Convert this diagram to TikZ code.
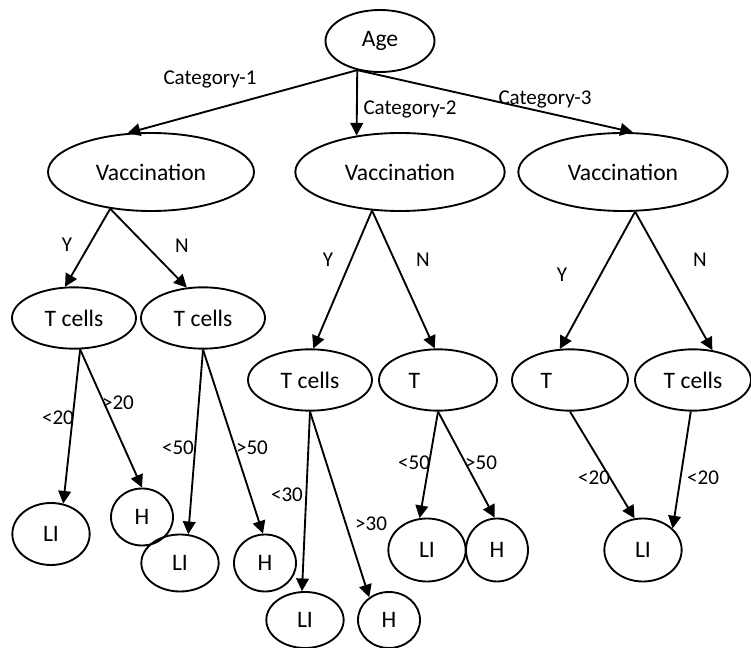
\documentclass[tikz,border=0pt]{standalone}
\usepackage{fontspec}
\setmainfont{Carlito}
\usetikzlibrary{shapes,arrows.meta,positioning}

\begin{document}
\begin{tikzpicture}[x=0.75pt, y=-0.75pt, line width=1.4pt,
  >={Triangle[length=9.5pt,width=9.5pt]},
  box/.style={ellipse, draw, inner sep=0pt, font=\fontsize{17.7}{20}\selectfont},
  vacc/.style={box, minimum width=157pt, minimum height=58.5pt},
  tcell/.style={box, minimum width=93pt, minimum height=46pt},
  leaf/.style={box, minimum width=58pt, minimum height=45pt},
  hnode/.style={box, minimum width=46.5pt, minimum height=44pt},
  lbl/.style={inner sep=0pt, font=\fontsize{15.8}{18}\selectfont}]
\useasboundingbox (0,0) rectangle (751,648);

\node (age) [box, minimum width=81.75pt, minimum height=46.5pt] at (380,41) {Age};
\node (vacc1) [vacc, minimum width=154.5pt] at (151,172) {Vaccination};
\node (vacc2) [vacc] at (400,172) {Vaccination};
\node (vacc3) [vacc] at (623,172) {Vaccination};

% second level
\node (tcells1) [tcell] at (74,318) {T cells};
\node (tcells2) [tcell] at (203,318) {T cells};
\node (tcells3) [tcell] at (310,380) {T cells};
\node (t4) [tcell, minimum width=88.5pt] at (438,380) {T\phantom{ cells}};
\node (t5) [tcell, minimum width=87pt] at (570,380) {T\phantom{ cells}};
\node (tcells6) [tcell, minimum width=87pt] at (693,380) {T cells};

% leaves
\node (li1) [leaf, minimum height=46.5pt] at (51,534) {LI};
\node (h1) [hnode, minimum height=42.75pt] at (142,517) {H};
\node (li2) [leaf, minimum height=42.75pt] at (180,563) {LI};
\node (h2) [hnode, minimum height=42.75pt] at (265,563) {H};
\node (li3) [leaf, minimum height=42pt] at (305,620) {LI};
\node (h3) [hnode, minimum height=42pt] at (389,620) {H};
\node (li4) [leaf, minimum height=47.25pt] at (427,550) {LI};
\node (h4) [hnode, minimum height=47.25pt] at (497,550) {H};
\node (li5) [leaf, minimum height=47.25pt] at (643,550) {LI};

% labels
\node (cat1) [lbl] at (210,79) {Category-1};
\node (cat2) [lbl] at (410,109) {Category-2};
\node (cat3) [lbl] at (545,99) {Category-3};
\node (y1) [lbl] at (67,245) {Y};
\node (n1) [lbl] at (182,246) {N};
\node (y2) [lbl] at (328,260) {Y};
\node (n2) [lbl] at (423,260) {N};
\node (y3) [lbl] at (562,275) {Y};
\node (n3) [lbl] at (700,260) {N};
\node (lt1) [lbl] at (58,418) {<20};
\node (gt1) [lbl] at (118,403) {>20};
\node (lt2) [lbl] at (178,448) {<50};
\node (gt2) [lbl] at (252,448) {>50};
\node (lt3) [lbl] at (287,495) {<30};
\node (gt3) [lbl] at (371,524) {>30};
\node (lt4) [lbl] at (414,463) {<50};
\node (gt4) [lbl] at (481,463) {>50};
\node (lt5) [lbl] at (594,478) {<20};
\node (lt6) [lbl] at (703,478) {<20};

\draw [->] (age.232) -- (vacc1.121);
\draw [->] (age.232) -- (vacc2.140);
\draw [->] (age.232) -- (vacc3.76);
\draw [->] (vacc1.222) -- (tcells1.106);
\draw [->] (vacc1.222) -- (tcells2.118);
\draw [->] (vacc2.234) -- (tcells3.84);
\draw [->] (vacc2.234) -- (t4.96);
\draw [->] (vacc3.287) -- (t5.108);
\draw [->] (vacc3.287) -- (tcells6.57);
\draw [->] (tcells1.281) -- (li1.68);
\draw [->] (tcells1.281) -- (h1.90);
\draw [->] (tcells2.south) -- (li2.74);
\draw [->] (tcells2.south) -- (h2.94);
\draw [->] (tcells3.south) -- (li3.96);
\draw [->] (tcells3.south) -- (h3.131);
\draw [->] (t4.south) -- (li4.103);
\draw [->] (t4.south) -- (h4.94);
\draw [->] (t5.south) -- (li5.105);
\draw [->] (tcells6.266) -- (li5.36);
\end{tikzpicture}
\end{document}
